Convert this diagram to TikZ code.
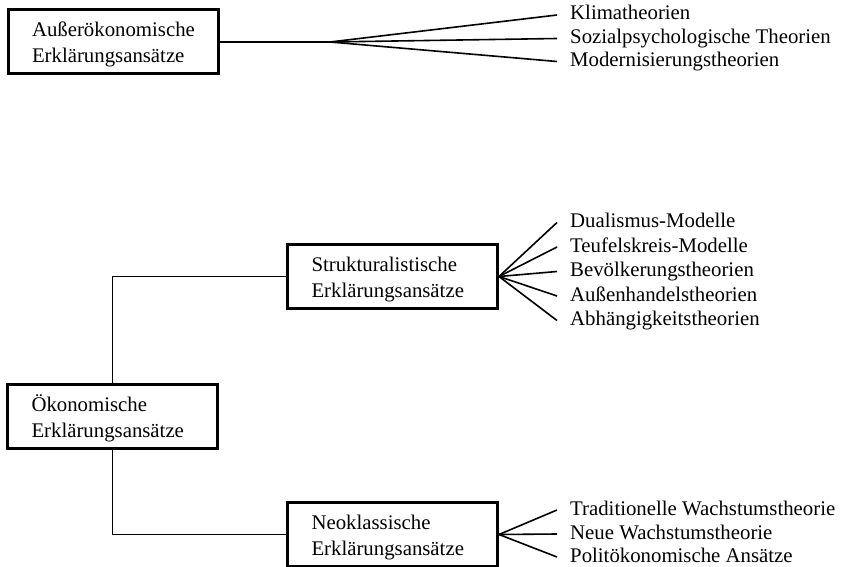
\documentclass[tikz,border=0pt]{standalone}
\usepackage{fontspec}
\setmainfont{Liberation Serif}
\usetikzlibrary{positioning}

\begin{document}
\begin{tikzpicture}[x=1pt,y=-1pt,
	box/.style={draw,line width=3pt,minimum height=64pt,text width=162pt,inner xsep=24pt,inner ysep=4pt,text height=21pt,text depth=31pt,align=left,font=\fontsize{20.8}{26}\selectfont},
	item/.style={anchor=west,inner xsep=13pt,text height=15pt,text depth=5pt,font=\fontsize{20.8}{24}\selectfont},
	branch/.style={line width=1.6pt}]
	\useasboundingbox (0,0) rectangle (841,567);
	\node[box] (ausser) at (113,42) {Außerökonomische\\Erklärungsansätze};
	\node[box] (strukt) at (392.5,276.5) {Strukturalistische\\Erklärungsansätze};
	\node[box] (oek) at (112.5,416.5) {Ökonomische\\Erklärungsansätze};
	\node[box] (neo) at (392.5,534.5) {Neoklassische\\Erklärungsansätze};
	\coordinate (fa) at (330,42);
	
	\draw[branch] (ausser.east) -- (fa);
	\draw[branch] (oek.north) |- (strukt.west);
	\draw[branch] (oek.south) |- (neo.west);
	
	\foreach \t/\y [count=\i] in {Klimatheorien/15,Sozialpsychologische Theorien/38.5,Modernisierungstheorien/61.5}{
		\node[item] (a\i) at (557,\y) {\t};
		\draw[branch] (fa) -- (a\i.west);
	}
	\foreach \t/\y [count=\i] in {Dualismus-Modelle/222.5,Teufelskreis-Modelle/247,Bevölkerungstheorien/271.5,Außenhandelstheorien/296,Abhängigkeitstheorien/320.5}{
		\node[item] (s\i) at (557,\y) {\t};
		\draw[branch] (strukt.east) -- (s\i.west);
	}
	\foreach \t/\y [count=\i] in {Traditionelle Wachstumstheorie/510,Neue Wachstumstheorie/534,Politökonomische Ansätze/557}{
		\node[item] (n\i) at (557,\y) {\t};
		\draw[branch] (neo.east) -- (n\i.west);
	}
\end{tikzpicture}
\end{document}
